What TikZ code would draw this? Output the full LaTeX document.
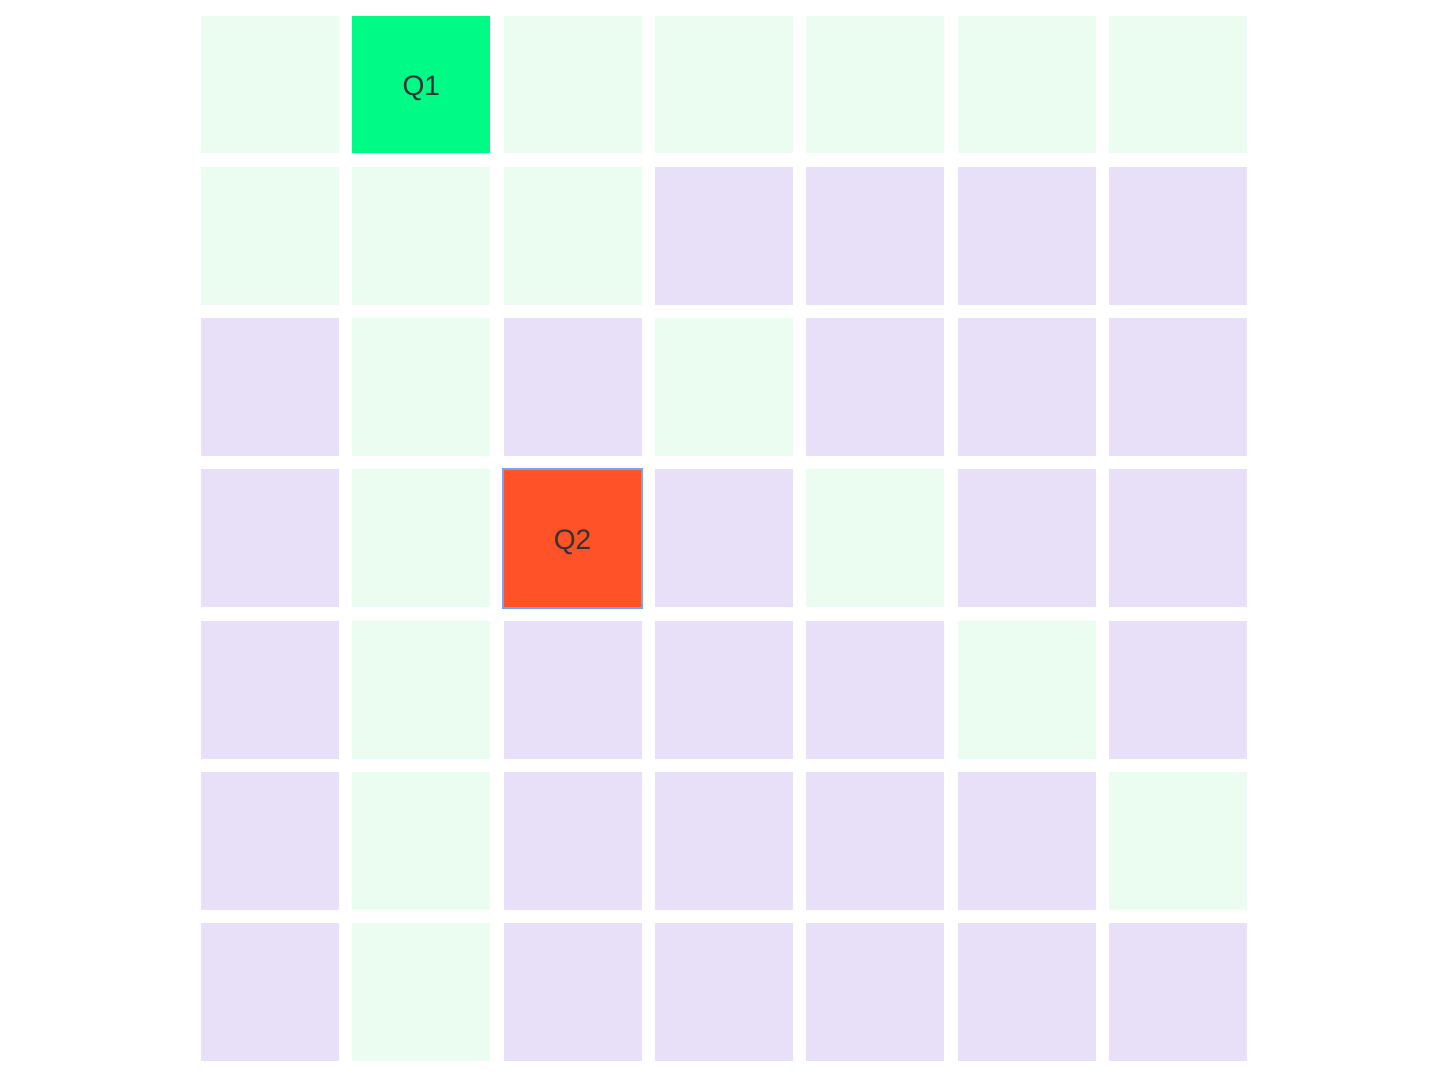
\documentclass[tikz,border=0pt]{standalone}
\usepackage{fontspec}
\setmainfont{Liberation Sans}
\definecolor{kindg}{HTML}{EBFDF0}
\definecolor{kindp}{HTML}{E7E0F8}
\definecolor{kinda}{HTML}{00FA86}
\definecolor{kindb}{HTML}{FF5228}
\definecolor{qedge}{HTML}{72A6F2}
\tikzset{
	cell/.style = {minimum size = 2.76cm, inner sep = 0pt, draw = none},
	qtext/.style = {font = \fontsize{16}{18}\selectfont, text = black!80, yshift = -2pt}
}

\begin{document}
\begin{tikzpicture}[x = 0.02cm, y = -0.02cm]
		\useasboundingbox[fill = white] (0,0) rectangle (1440,1080);
		\foreach \r/\pat in {0/{g,a,g,g,g,g,g}, 1/{g,g,g,p,p,p,p}, 2/{p,g,p,g,p,p,p},
			3/{p,g,b,p,g,p,p}, 4/{p,g,p,p,p,g,p}, 5/{p,g,p,p,p,p,g}, 6/{p,g,p,p,p,p,p}}
		{
			\foreach \kind [count = \c from 0] in \pat
				\node [cell, fill = kind\kind] (c\r\c) at ({270 + 151.3*\c}, {84.5 + 151.3*\r}) {};
		}
		\draw [qedge, line width = 1.1pt] (c32.south west) rectangle (c32.north east);
		\node [qtext] (q1) at (c01) {Q1};
		\node [qtext] (q2) at (c32) {Q2};
		%\node [qtext] at (c00) {Q0};
	\end{tikzpicture}
\end{document}
